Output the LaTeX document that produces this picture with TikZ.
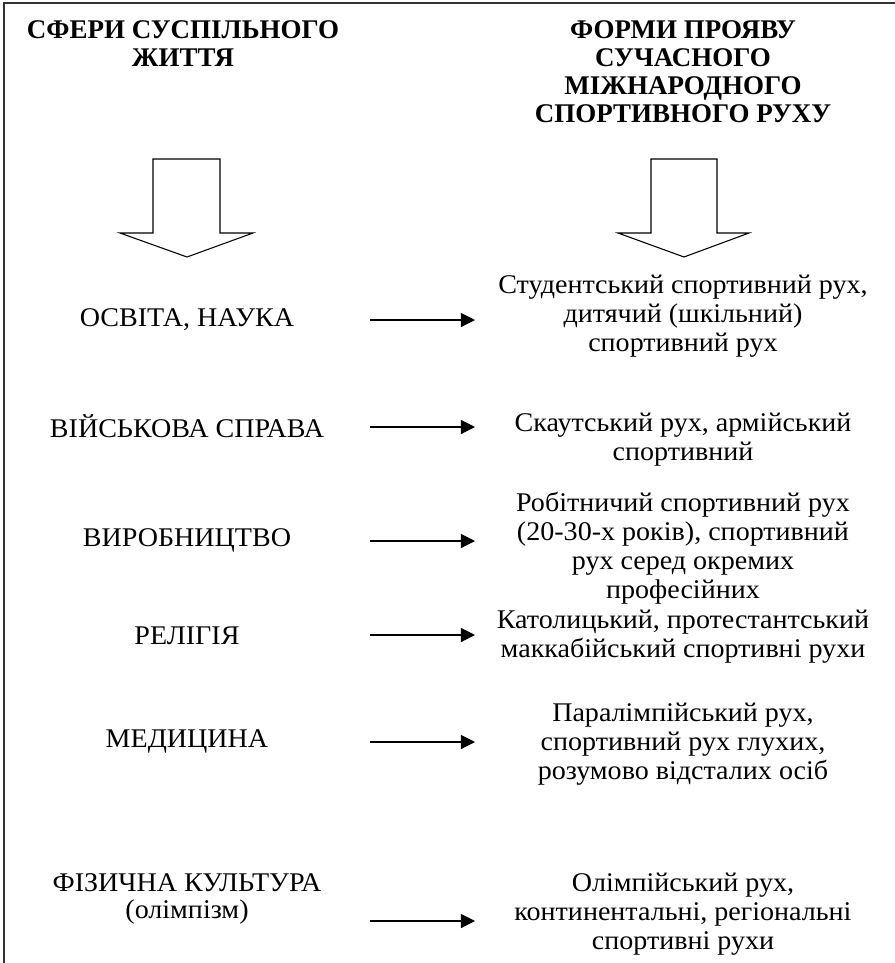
\documentclass[tikz,border=0pt]{standalone}
\usepackage{fontspec}
\setmainfont{Liberation Serif}
\newfontfamily\bodyfont{Liberation Serif}[FakeStretch=1.04]
\usetikzlibrary{arrows.meta}
\begin{document}
\begin{tikzpicture}[x=0.556pt,y=-0.556pt,
  title/.style={font=\bfseries\fontsize{15}{15.6}\selectfont,align=center,inner sep=0pt},
  sphere/.style={font=\bodyfont\fontsize{15}{15.2}\selectfont,align=center,inner sep=0pt},
  form/.style={font=\bodyfont\fontsize{15}{16.1}\selectfont,align=center,inner sep=0pt},
  bigarrow/.style={draw=black,line width=0.6pt,fill=white,line join=miter},
  link/.style={draw=black,line width=0.6pt,-{Triangle[length=7.8pt,width=7.8pt]}},
  frame/.style={draw=black!80,line width=0.9pt}]
\useasboundingbox (0,0) rectangle (895,963);
\draw[frame] (895,3) -- (4,3) -- (4,963);
\node[title] (t1) at (183,44) {СФЕРИ СУСПІЛЬНОГО\\ЖИТТЯ};
\node[title] (t2) at (683,72) {ФОРМИ ПРОЯВУ\\СУЧАСНОГО\\МІЖНАРОДНОГО\\СПОРТИВНОГО РУХУ};
\draw[bigarrow] (153,159) -- (220,159) -- (220,233) -- (253,233) -- (187,257) -- (120,233) -- (153,233) -- cycle;
\draw[bigarrow] (651,159) -- (717,159) -- (717,233) -- (749,233) -- (684,257) -- (618,233) -- (651,233) -- cycle;
\node[sphere] (s1) at (187,320) {ОСВІТА, НАУКА};
\node[sphere] (s2) at (187,426) {ВІЙСЬКОВА СПРАВА};
\node[sphere] (s3) at (187,540) {ВИРОБНИЦТВО};
\node[sphere] (s4) at (187,636) {РЕЛІГІЯ};
\node[sphere] (s5) at (187,741) {МЕДИЦИНА};
\node[sphere] (s6) at (187,899) {ФІЗИЧНА КУЛЬТУРА\\(олімпізм)};
\node[form] (f1) at (683,316) {Студентський спортивний рух,\\дитячий (шкільний)\\спортивний рух};
\node[form] (f2) at (683,440) {Скаутський рух, армійський\\спортивний};
\node[form] (f3) at (683,548) {Робітничий спортивний рух\\(20-30-х років), спортивний\\рух серед окремих\\професійних};
\node[form] (f4) at (683,637) {Католицький, протестантський\\маккабійський спортивні рухи};
\node[form] (f5) at (683,744) {Паралімпійський рух,\\спортивний рух глухих,\\розумово відсталих осіб};
\node[form] (f6) at (683,914) {Олімпійський рух,\\континентальні, регіональні\\спортивні рухи};
\foreach \i/\y in {1/320,2/427,3/541,4/635,5/742,6/921}{
  \coordinate (a\i) at (370,\y);
  \coordinate (b\i) at (475,\y);
  \draw[link] (a\i) -- (b\i);
}
\end{tikzpicture}
\end{document}
